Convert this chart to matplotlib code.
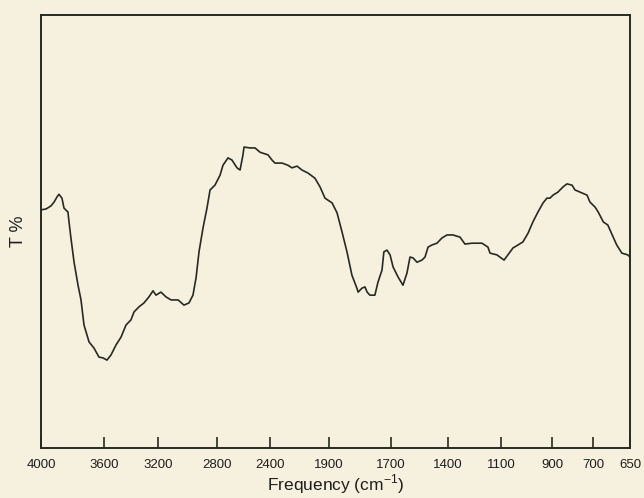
import matplotlib
matplotlib.use("Agg")
import matplotlib.pyplot as plt
import numpy as np

# IR spectrum: wavenumber (cm-1) and transmittance (% of plot height)
wavenumber = [4000, 3968, 3937, 3917, 3898, 3886, 3867, 3854, 3829, 3822, 3810, 3790, 3765,
              3746, 3727, 3695, 3664, 3632, 3606, 3578, 3548, 3511, 3474, 3437, 3400, 3378,
              3341, 3304, 3267, 3237, 3215, 3180, 3146, 3112, 3064, 3024, 2990, 2963, 2942,
              2922, 2895, 2868, 2847, 2814, 2777, 2755, 2717, 2687, 2649, 2626, 2604, 2596,
              2551, 2513, 2475, 2415, 2383, 2358, 2298, 2248, 2214, 2171, 2129, 2078, 2019,
              1976, 1934, 1890, 1874, 1858, 1842, 1826, 1810, 1806, 1794, 1784, 1777, 1768,
              1752, 1742, 1729, 1723, 1713, 1703, 1689, 1663, 1637, 1616, 1600, 1584, 1563,
              1537, 1521, 1505, 1484, 1458, 1432, 1405, 1372, 1332, 1304, 1264, 1208, 1174,
              1162, 1123, 1106, 1088, 1073, 1053, 1033, 1014, 994, 975, 955, 935, 920, 908,
              895, 871, 846, 827, 802, 788, 763, 729, 715, 697, 693, 686, 680, 674, 668, 661,
              653, 650]
transmittance = [55.0, 55.2, 55.9, 56.8, 58.0, 58.6, 57.7, 55.4, 54.5, 52.2, 48.5, 42.9, 37.6,
                 34.2, 28.4, 24.5, 23.1, 21.0, 20.8, 20.3, 21.5, 23.8, 25.6, 28.4, 29.6, 31.4,
                 32.6, 33.5, 34.9, 36.3, 35.3, 36.0, 34.9, 34.2, 34.2, 33.0, 33.5, 35.3, 39.3,
                 45.3, 50.8, 55.4, 59.6, 60.7, 63.0, 65.3, 67.0, 66.5, 64.7, 64.2, 67.7, 69.5,
                 69.3, 69.3, 68.3, 67.7, 66.5, 65.8, 65.8, 65.3, 64.7, 65.1, 64.2, 63.5, 62.3,
                 60.3, 57.7, 56.6, 54.3, 49.9, 45.3, 39.9, 36.9, 36.0, 36.9, 37.2, 36.0, 35.3,
                 35.3, 38.3, 41.1, 45.3, 45.7, 44.6, 41.8, 39.5, 37.6, 40.4, 44.1, 43.9, 42.9,
                 43.4, 44.1, 46.4, 46.9, 47.3, 48.5, 49.2, 49.2, 48.7, 47.1, 47.3, 47.3, 46.4,
                 45.0, 44.6, 44.1, 43.4, 44.6, 46.2, 46.9, 47.6, 49.6, 52.2, 54.5, 56.6, 57.7, 57.7,
                 58.4, 59.1, 60.3, 61.0, 60.7, 59.6, 59.1, 58.4, 56.8, 55.6, 54.5, 52.2, 51.5,
                 49.2, 46.9, 45.0, 44.6, 44.1]

tick_values = [4000, 3600, 3200, 2800, 2400, 1900, 1700, 1400, 1100, 900, 700, 650]

# the printed axis is not linear; where each tick sits along the axis (0..1 from the left)
tick_px = np.array([41, 104, 158, 217, 270, 329, 391, 448, 501, 552, 593, 630], float)
tick_frac = (tick_px - 41) / (630 - 41)
vals_up = np.array(tick_values[::-1], float)
pos_up = 1 - tick_frac[::-1]   # increasing with wavenumber; axis gets inverted below


def forward(w):
    return np.interp(w, vals_up, pos_up)


def inverse(p):
    return np.interp(p, pos_up, vals_up)


paper = "#f6f0df"
ink = "#262a22"

plt.rcParams["font.family"] = ["Liberation Sans", "DejaVu Sans"]

fig = plt.figure(figsize=(6.44, 4.98), dpi=100, facecolor=paper)
ax = fig.add_axes([41 / 644, 1 - 448 / 498, (630 - 41) / 644, (448 - 15) / 498])
ax.set_facecolor(paper)

ax.set_xscale("function", functions=(forward, inverse))
ax.plot(wavenumber, transmittance, color=ink, linewidth=1.2)

ax.set_xlim(4000, 650)
ax.set_ylim(0, 100)
ax.set_xticks(tick_values)
ax.set_xticklabels([str(v) for v in tick_values])
ax.xaxis.set_minor_locator(matplotlib.ticker.NullLocator())
ax.tick_params(axis="x", direction="in", length=8, width=1.2, color=ink,
               labelsize=9.5, labelcolor="#1e1e1e", pad=8)
ax.set_yticks([])

for side in ax.spines.values():
    side.set_color(ink)
    side.set_linewidth(1.4)

ax.set_xlabel("Frequency (cm$^{\\mathregular{-1}}$)", fontsize=12.5, color="#1e1e1e", labelpad=1)
ax.set_ylabel("T %", fontsize=13, color="#1e1e1e", labelpad=10)

fig.savefig("out.png", dpi=100, facecolor=paper)
